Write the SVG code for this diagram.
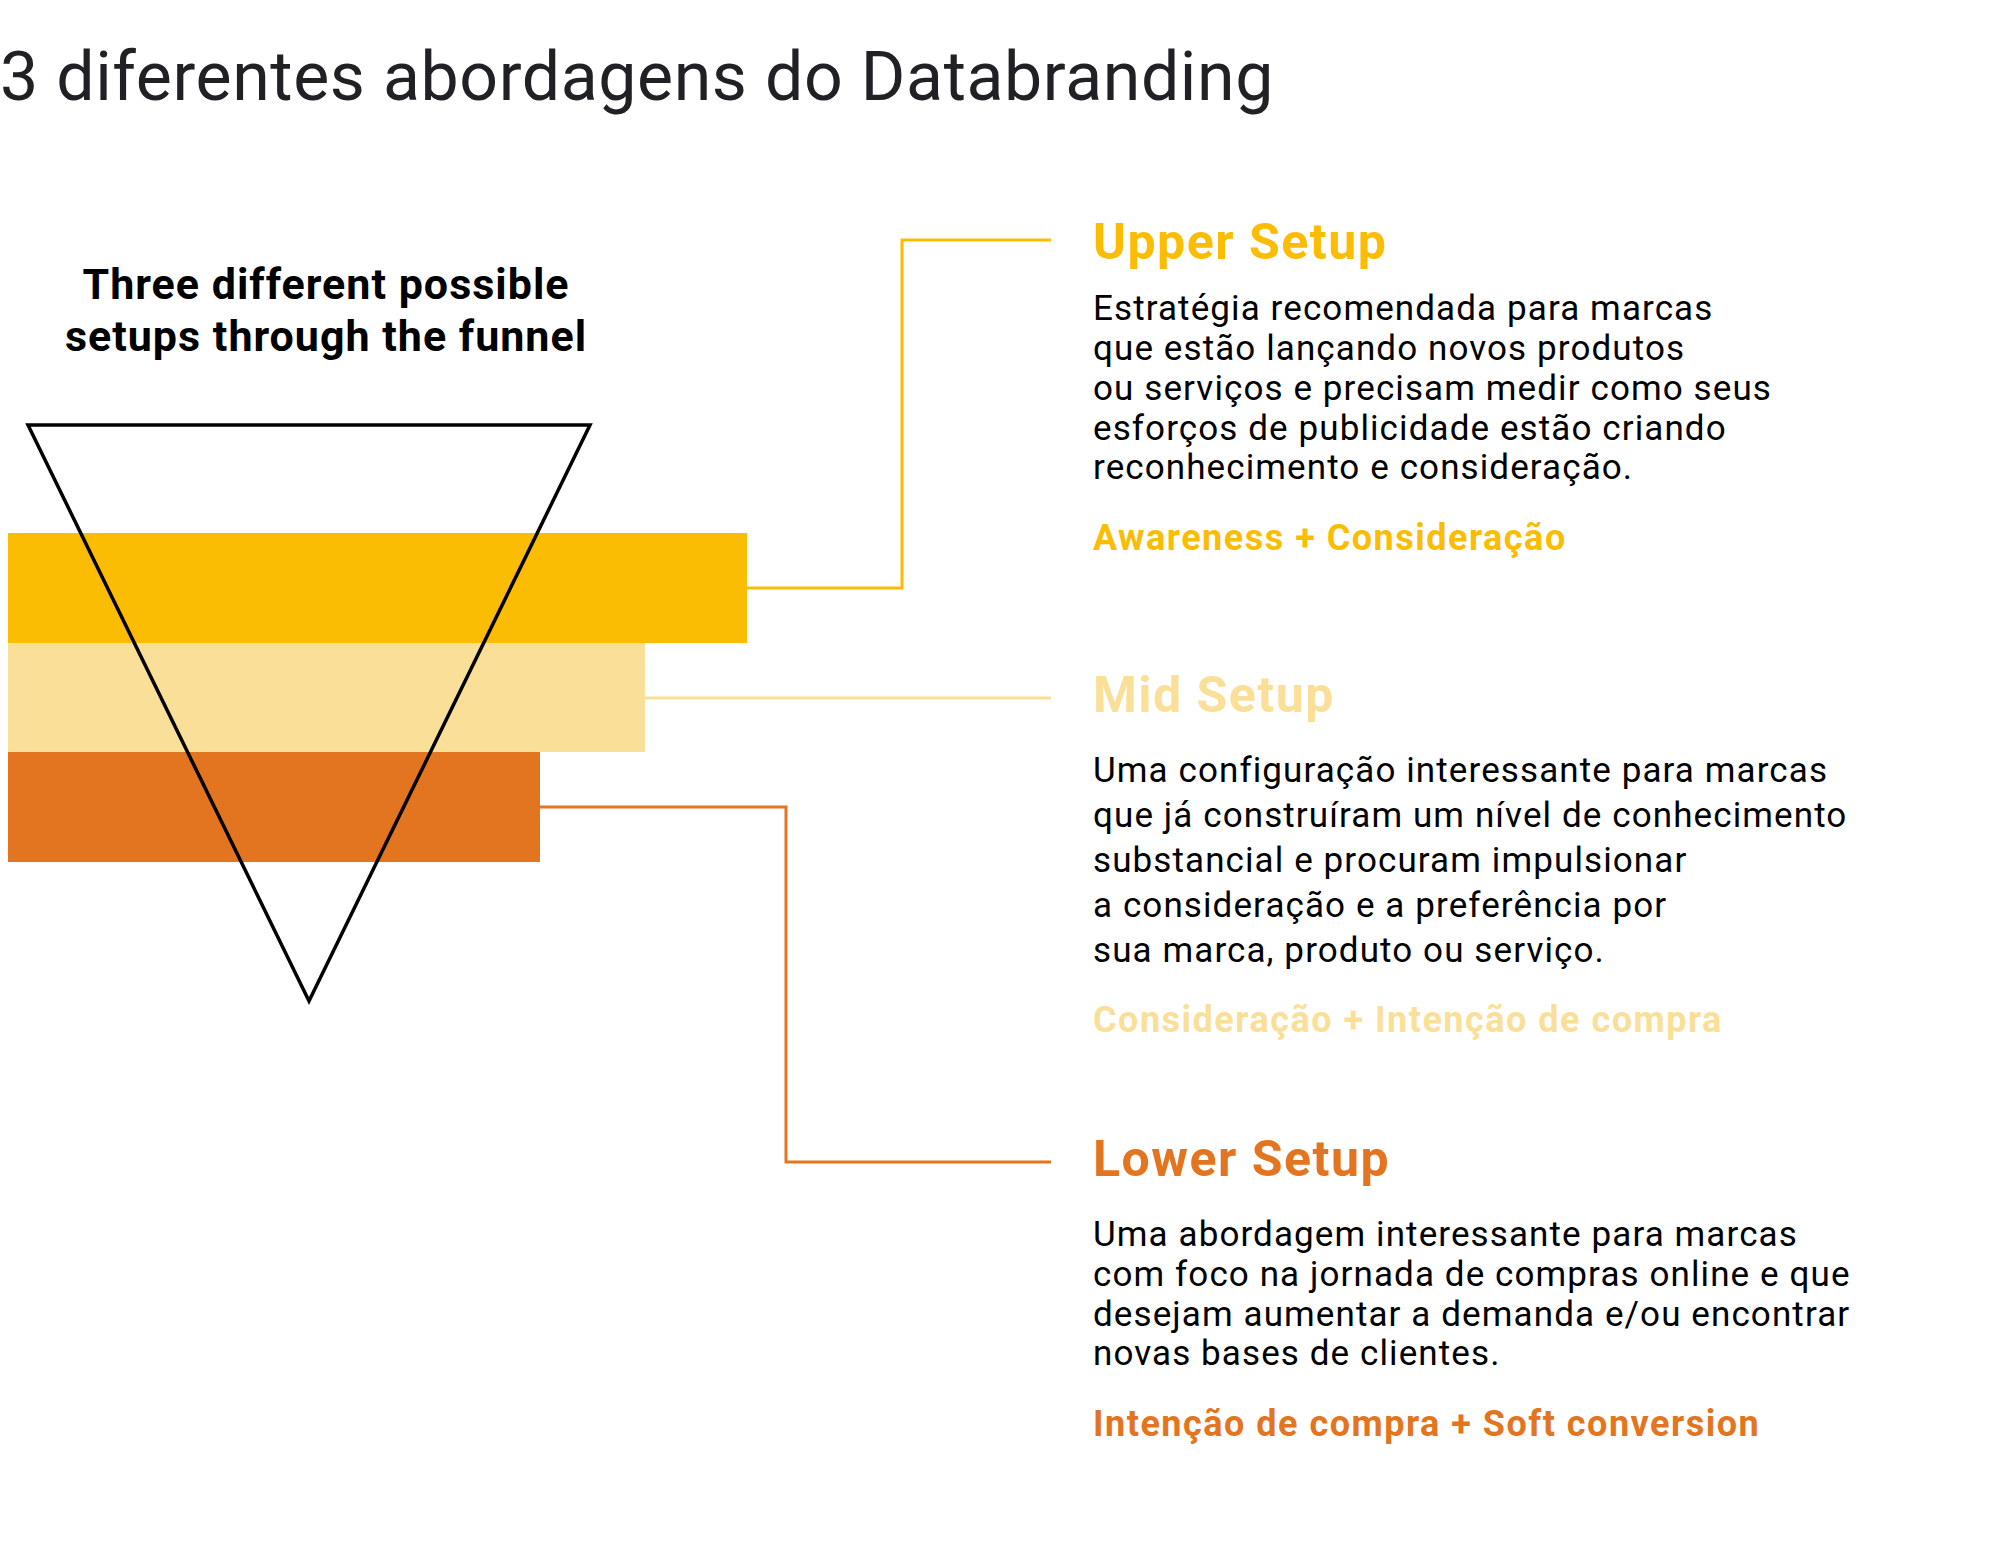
<svg xmlns="http://www.w3.org/2000/svg" width="2000" height="1550" viewBox="0 0 2000 1550">
<style>
text{font-family:Roboto,"Open Sans",sans-serif}
.t{font-size:68px;fill:#202124;letter-spacing:0.6px}
.sub{font-size:43px;font-weight:bold;fill:#000;text-anchor:middle;letter-spacing:1px}
.h{font-size:50px;font-weight:bold;letter-spacing:1.5px}
.b{font-size:35px;fill:#000;letter-spacing:1.1px}
.k{font-size:36px;font-weight:bold;letter-spacing:1.5px}
.u{fill:#FBBC04}.m{fill:#FADF98}.l{fill:#E37520}
.c{fill:none;stroke-width:3}
</style>
<rect width="2000" height="1550" fill="#fff"/>
<text class="t" x="0" y="100">3 diferentes abordagens do Databranding</text>
<text class="sub" x="326" y="299">Three different possible</text>
<text class="sub" x="326" y="351">setups through the funnel</text>
<g id="bar-upper"><rect x="8" y="533" width="739" height="110" fill="#FBBC04"/></g>
<g id="bar-mid"><rect x="8" y="643" width="637" height="109" fill="#FADF98"/></g>
<g id="bar-lower"><rect x="8" y="752" width="532" height="110" fill="#E37520"/></g>
<g id="funnel"><polygon points="28,425 590,425 309,1001" fill="none" stroke="#000" stroke-width="3.5"/></g>
<g id="connectors">
<polyline class="c" stroke="#FBBC04" points="747,588 902,588 902,240 1051,240"/>
<polyline class="c" stroke="#FADF98" points="645,698 1051,698"/>
<polyline class="c" stroke="#E37520" points="540,807 786,807 786,1162 1051,1162"/>
</g>
<g id="upper">
<text class="h u" x="1093" y="259">Upper Setup</text>
<text class="b"><tspan x="1093" y="320">Estratégia recomendada para marcas</tspan><tspan x="1093" y="360">que estão lançando novos produtos</tspan><tspan x="1093" y="400">ou serviços e precisam medir como seus</tspan><tspan x="1093" y="440">esforços de publicidade estão criando</tspan><tspan x="1093" y="479">reconhecimento e consideração.</tspan></text>
<text class="k u" x="1093" y="550">Awareness + Consideração</text>
</g>
<g id="mid">
<text class="h m" x="1093" y="712">Mid Setup</text>
<text class="b"><tspan x="1093" y="782">Uma configuração interessante para marcas</tspan><tspan x="1093" y="827">que já construíram um nível de conhecimento</tspan><tspan x="1093" y="872">substancial e procuram impulsionar</tspan><tspan x="1093" y="917">a consideração e a preferência por</tspan><tspan x="1093" y="962">sua marca, produto ou serviço.</tspan></text>
<text class="k m" x="1093" y="1032">Consideração + Intenção de compra</text>
</g>
<g id="lower">
<text class="h l" x="1093" y="1176">Lower Setup</text>
<text class="b"><tspan x="1093" y="1246">Uma abordagem interessante para marcas</tspan><tspan x="1093" y="1286">com foco na jornada de compras online e que</tspan><tspan x="1093" y="1326">desejam aumentar a demanda e/ou encontrar</tspan><tspan x="1093" y="1365">novas bases de clientes.</tspan></text>
<text class="k l" x="1093" y="1436">Intenção de compra + Soft conversion</text>
</g>
</svg>
